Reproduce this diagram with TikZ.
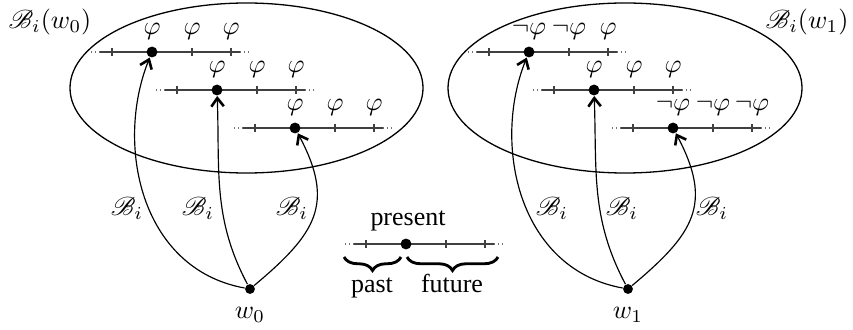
\documentclass[tikz,border=0pt]{standalone}
\usepackage{fontspec}
\setmainfont{Liberation Serif}
\usepackage{mathrsfs}
\usetikzlibrary{arrows.meta,decorations.pathreplacing}
\tikzset{
  tl/.style={draw=black!75, line width=0.6pt},
  tldots/.style={draw=black!55, line width=0.5pt, densely dotted},
  nowdot/.style={circle, fill=black, inner sep=0pt, minimum size=4.2pt},
  worlddot/.style={circle, fill=black, inner sep=0pt, minimum size=3.8pt},
  region/.style={draw=black, line width=0.5pt},
  acc/.style={draw=black, line width=0.45pt, -{Straight Barb[length=3.2pt,width=4.8pt,line width=1pt]}},
  bracesty/.style={decorate, decoration={brace, mirror, amplitude=5.2pt}, line width=1.1pt},
}
\newcommand\Tline[3]{%
  \draw[tldots] (#1-61,#2) -- (#1-52,#2);
  \draw[tldots] (#1+88,#2) -- (#1+97,#2);
  \draw[tl] (#1-52,#2) -- (#1+88,#2);
  \foreach \dx in {-40,40,79} {\draw[tl] (#1+\dx,#2-3.6) -- (#1+\dx,#2+3.6);}
  \node[nowdot] (#3) at (#1,#2) {};
}
\begin{document}
\begin{tikzpicture}[x=0.385pt,y=0.385pt]
\useasboundingbox (0,0) rectangle (853,329);
% regions
\draw[region] (246.5,241) ellipse [x radius=176.5, y radius=85];
\draw[region] (625,241) ellipse [x radius=177, y radius=85];
\node (lblL) at (50,307) {$\mathscr{B}_i(w_0)$};
\node (lblR) at (807,307) {$\mathscr{B}_i(w_1)$};
% left timelines
\Tline{152}{277}{La}
\Tline{217}{239}{Lb}
\Tline{295}{201}{Lc}
\foreach \x/\n in {152/1,192/2,231/3} {\node (pa\n) at (\x,298) {$\varphi$};}
\foreach \x/\n in {217/1,257/2,296/3} {\node (pb\n) at (\x,260) {$\varphi$};}
\foreach \x/\n in {295/1,335/2,374/3} {\node (pc\n) at (\x,222) {$\varphi$};}
% right timelines
\Tline{529}{277}{Ra}
\Tline{594}{239}{Rb}
\Tline{673}{201}{Rc}
\node (qa1) at (529,298) {$\neg\varphi$};
\node (qa2) at (569,298) {$\neg\varphi$};
\node (qa3) at (608,298) {$\varphi$};
\foreach \x/\n in {594/1,634/2,673/3} {\node (qb\n) at (\x,260) {$\varphi$};}
\foreach \x/\n in {673/1,713/2,752/3} {\node (qc\n) at (\x,222) {$\neg\varphi$};}
% worlds
\node[worlddot] (w0) at (250,40) {};
\node[worlddot] (w1) at (628,40) {};
\node (w0l) at (250,14) {$w_0$};
\node (w1l) at (628,14) {$w_1$};
% accessibility
\draw[acc] (w0) .. controls +(-110,20) and +(-37,-92) .. (La);
\draw[acc] (w0) to[out=118,in=-88,looseness=1] (Lb);
\draw[acc] (w0) to[out=40,in=-62,looseness=1.3] (Lc);
\draw[acc] (w1) .. controls +(-110,20) and +(-37,-92) .. (Ra);
\draw[acc] (w1) to[out=118,in=-88,looseness=1] (Rb);
\draw[acc] (w1) to[out=40,in=-62,looseness=1.3] (Rc);
\node (b1) at (127,121) {$\mathscr{B}_i$};
\node (b2) at (198,121) {$\mathscr{B}_i$};
\node (b3) at (292,121) {$\mathscr{B}_i$};
\node (b4) at (552,121) {$\mathscr{B}_i$};
\node (b5) at (622,121) {$\mathscr{B}_i$};
\node (b6) at (712,121) {$\mathscr{B}_i$};
% legend
\Tline{406}{85}{Ld}
\node[anchor=base] (present) at (408,104) {present};
\coordinate (pastA) at (344,72);
\coordinate (pastB) at (401,72);
\coordinate (futA) at (407,72);
\coordinate (futB) at (498,72);
\draw[bracesty] (pastA) -- (pastB);
\draw[bracesty] (futA) -- (futB);
\node[anchor=base] (past) at (372,37) {past};
\node[anchor=base] (future) at (452,37) {future};
\end{tikzpicture}
\end{document}
